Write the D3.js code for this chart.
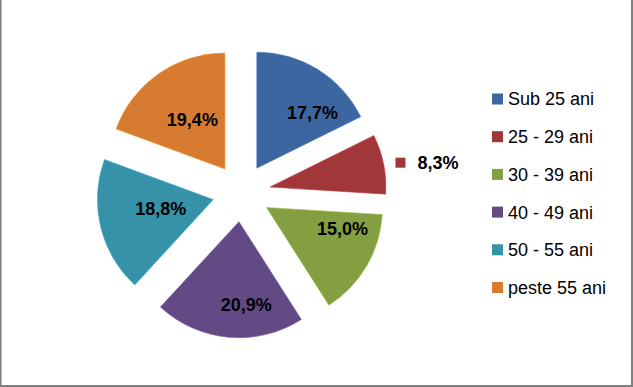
<!DOCTYPE html>
<html>
<head>
<meta charset="utf-8">
<script src="https://cdn.jsdelivr.net/npm/d3@7/dist/d3.min.js"></script>
<style>
  html, body { margin: 0; padding: 0; background: #fff; }
  svg { display: block; }
</style>
</head>
<body>
<div id="chart"></div>
<script>
// ---- data ----
const categories = ["Sub 25 ani", "25 - 29 ani", "30 - 39 ani", "40 - 49 ani", "50 - 55 ani", "peste 55 ani"];
const values = [17.7, 8.3, 15.0, 20.9, 18.8, 19.4];
const valueLabels = ["17,7%", "8,3%", "15,0%", "20,9%", "18,8%", "19,4%"];
const colors = ["#3B66A0", "#A1373A", "#839F41", "#634A85", "#3592A9", "#D67B30"];

// ---- layout ----
const W = 633, H = 387;
const cx = 241.5, cy = 192.8, R = 116, explode = 29;
// label placement relative to each exploded slice: [distance as fraction of R, angle shift in degrees, outside?]
const labelPlacement = [[0.68, 13, false], [1.37, 2.6, true], [0.68, -15, false], [0.72, -10, false], [0.46, 3.5, false], [0.51, 1.5, false]];

const svg = d3.select("#chart").append("svg").attr("width", W).attr("height", H);
svg.append("rect").attr("width", W).attr("height", H).attr("fill", "#fff");
// border (gray, left/right/bottom)
svg.append("rect").attr("x", 0).attr("y", 0).attr("width", 1.5).attr("height", H).attr("fill", "#7f7f7f");
svg.append("rect").attr("x", W - 2).attr("y", 0).attr("width", 2).attr("height", H).attr("fill", "#7f7f7f");
svg.append("rect").attr("x", 0).attr("y", H - 2).attr("width", W).attr("height", 2).attr("fill", "#7f7f7f");

const pie = d3.pie().sort(null).value(d => d).startAngle(0).endAngle(2 * Math.PI);
const arcs = pie(values);
const arc = d3.arc().innerRadius(0).outerRadius(R);

const dir = a => [Math.sin(a), -Math.cos(a)];

const g = svg.append("g").attr("transform", `translate(${cx},${cy})`);

arcs.forEach((a, i) => {
  const mid = (a.startAngle + a.endAngle) / 2;
  const [dx, dy] = dir(mid);
  const vx = dx * explode, vy = dy * explode;
  g.append("path")
    .attr("d", arc(a))
    .attr("transform", `translate(${vx},${vy})`)
    .attr("fill", colors[i])
    .attr("stroke", d3.color(colors[i]).brighter(0.6))
    .attr("stroke-width", 0.6);

  const [f, shift, outside] = labelPlacement[i];
  const la = mid + shift * Math.PI / 180;
  const [lx0, ly0] = dir(la);
  const lx = vx + lx0 * f * R, ly = vy + ly0 * f * R;
  if (!outside) {
    g.append("text")
      .attr("x", lx).attr("y", ly)
      .attr("text-anchor", "middle")
      .attr("dy", "0.35em")
      .style("font-family", "'Liberation Sans', Arial, sans-serif")
      .style("font-weight", "bold")
      .style("font-size", "18px")
      .attr("fill", "#000")
      .text(valueLabels[i]);
  } else {
    g.append("rect")
      .attr("x", lx - 31.5).attr("y", ly - 5)
      .attr("width", 10).attr("height", 10)
      .attr("fill", colors[i]);
    g.append("text")
      .attr("x", lx + 11).attr("y", ly)
      .attr("text-anchor", "middle")
      .attr("dy", "0.35em")
      .style("font-family", "'Liberation Sans', Arial, sans-serif")
      .style("font-weight", "bold")
      .style("font-size", "18px")
      .attr("fill", "#000")
      .text(valueLabels[i]);
  }
});

// legend
const legend = svg.append("g");
const rowY = d3.scalePoint().domain(categories).range([99, 287.5]);
categories.forEach((c, i) => {
  const y = rowY(c);
  legend.append("rect")
    .attr("x", 492).attr("y", y - 5.5)
    .attr("width", 11).attr("height", 11)
    .attr("fill", colors[i]);
  legend.append("text")
    .attr("x", 508).attr("y", y)
    .attr("dy", "0.36em")
    .style("font-family", "'Liberation Sans', Arial, sans-serif")
    .style("font-size", "18px")
    .attr("fill", "#000")
    .text(c);
});
</script>
</body>
</html>
